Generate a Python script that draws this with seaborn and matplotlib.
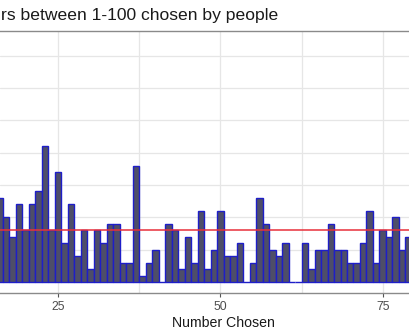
import matplotlib
matplotlib.use("Agg")
import matplotlib.pyplot as plt
import seaborn as sns
import numpy as np
import pandas as pd

# ---- data (visible portion of the chart) ----
numbers = list(range(16, 80))
counts = [13, 10, 7, 12, 8, 12, 14, 21, 8, 17,
          6, 12, 4, 8, 2, 8, 6, 9, 9, 3,
          3, 18, 1, 3, 5, 0, 9, 8, 2, 7,
          3, 11, 2, 5, 11, 4, 4, 6, 0, 3,
          13, 9, 5, 4, 6, 0, 0, 6, 2, 5,
          5, 9, 5, 5, 3, 3, 6, 11, 3, 8,
          7, 10, 5, 7]
mean_line = 8
x_ticks = [25, 50, 75]
title_text = "rs between 1-100 chosen by people"
x_label = "Number Chosen"

df = pd.DataFrame({"number": numbers, "count": counts})

sns.set_theme(style="white")
plt.rcParams["font.family"] = ["Liberation Sans", "DejaVu Sans"]

fig = plt.figure(figsize=(4.10, 3.35), dpi=100)
ax = fig.add_axes([0.0, 42 / 335, 1.0, 262 / 335])

# grid lines (major + minor like ggplot)
for gx in [12.5, 25, 37.5, 50, 62.5, 75]:
    ax.axvline(gx, color="#e6e6e6", lw=0.9, zorder=0)
for gy in [5, 10, 15, 20, 25, 30, 35]:
    ax.axhline(gy, color="#e6e6e6", lw=0.9, zorder=0)

sns.histplot(data=df, x="number", weights="count", discrete=True,
             color="#4e4e68", edgecolor="#1e1ec8", linewidth=1.0,
             alpha=1.0, ax=ax, zorder=2)

ax.axhline(mean_line, color="#e8303a", lw=1.1, zorder=3)

ax.set_xlim(16.07, 79.2)
ax.set_ylim(-1.7, 38.8)

ax.set_xticks(x_ticks)
ax.set_xticklabels([str(t) for t in x_ticks], fontsize=8.8, color="#4d4d4d")
ax.tick_params(axis="x", bottom=True, length=3, width=0.8, color="#555555", pad=2.5)
ax.set_yticks([])
ax.set_ylabel("")
ax.set_xlabel(x_label, fontsize=10.2, color="#1a1a1a", labelpad=2)
ax.xaxis.set_label_coords(0.544, -0.088)

for s in ["left", "right"]:
    ax.spines[s].set_visible(False)
for s in ["top", "bottom"]:
    ax.spines[s].set_visible(True)
    ax.spines[s].set_color("#8a8a8a")
    ax.spines[s].set_linewidth(1.0)

fig.text(0.002, 1 - 20 / 335, title_text, fontsize=12.6, color="#1a1a1a",
         ha="left", va="baseline")

fig.savefig("out.png", dpi=100, facecolor="white")
